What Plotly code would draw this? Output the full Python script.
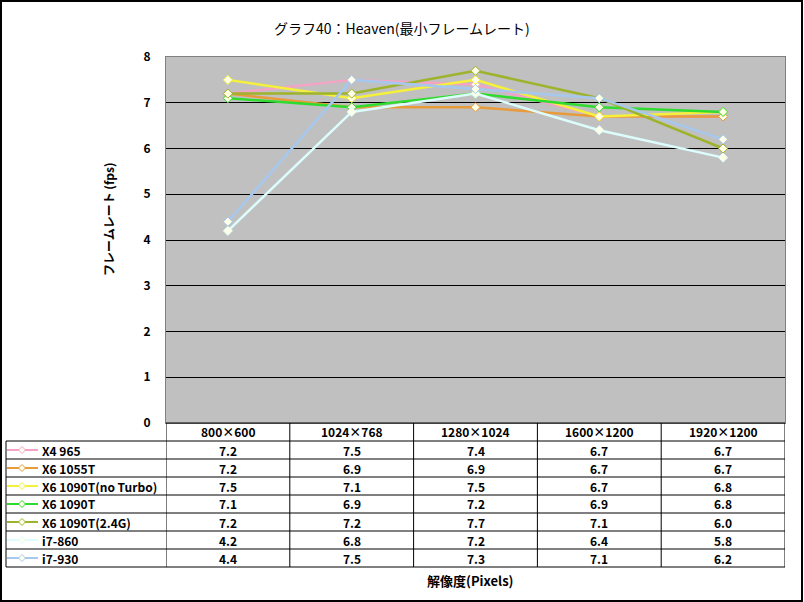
import plotly.graph_objects as go

categories = ["800×600", "1024×768", "1280×1024", "1600×1200", "1920×1200"]
series_names = ["X4 965", "X6 1055T", "X6 1090T(no Turbo)", "X6 1090T", "X6 1090T(2.4G)", "i7-860", "i7-930"]
x4_965 = [7.2, 7.5, 7.4, 6.7, 6.7]
x6_1055t = [7.2, 6.9, 6.9, 6.7, 6.7]
x6_1090t_noturbo = [7.5, 7.1, 7.5, 6.7, 6.8]
x6_1090t = [7.1, 6.9, 7.2, 6.9, 6.8]
x6_1090t_24g = [7.2, 7.2, 7.7, 7.1, 6.0]
i7_860 = [4.2, 6.8, 7.2, 6.4, 5.8]
i7_930 = [4.4, 7.5, 7.3, 7.1, 6.2]
series_values = [x4_965, x6_1055t, x6_1090t_noturbo, x6_1090t, x6_1090t_24g, i7_860, i7_930]
colors = ["#F4A3C6", "#E89B3A", "#F5F03A", "#2EDB2E", "#9DB32C", "#DDFDFD", "#A6C8EE"]
y_ticks = [0, 1, 2, 3, 4, 5, 6, 7, 8]

W, H = 804, 602
L, R, T, B = 166, 785, 57, 423
pw, ph = R - L, B - T

def px(xp):
    return (xp - L) / pw

def py(yp):
    return (B - yp) / ph

FONT = "Noto Sans CJK JP"
fig = go.Figure()
for name, vals, col in zip(series_names, series_values, colors):
    fig.add_trace(go.Scatter(
        x=list(range(len(categories))), y=vals, name=name, mode="lines+markers",
        line=dict(color=col, width=2.5),
        marker=dict(symbol="diamond", size=7, color="#FFFFE8", line=dict(color=col, width=1)),
        showlegend=False, hoverinfo="skip"))

shapes = []
annotations = []

shapes.append(dict(type="rect", xref="paper", yref="paper", x0=px(1), x1=px(802), y0=py(1), y1=py(601),
                   line=dict(color="black", width=2), fillcolor="rgba(0,0,0,0)", layer="below"))

header_top = B
header_h = 18
row_h = 18
n_rows = len(series_names)
rows_top = header_top + header_h
table_bottom = rows_top + n_rows * row_h
line_style = dict(color="black", width=1)

shapes.append(dict(type="line", xref="paper", yref="paper", x0=px(L), x1=px(R), y0=py(header_top), y1=py(header_top), line=line_style))
for i in range(n_rows + 1):
    yy = rows_top + i * row_h
    shapes.append(dict(type="line", xref="paper", yref="paper", x0=px(6), x1=px(R), y0=py(yy), y1=py(yy), line=line_style))
shapes.append(dict(type="line", xref="paper", yref="paper", x0=px(6), x1=px(6), y0=py(rows_top), y1=py(table_bottom), line=line_style))
for k in range(len(categories) + 1):
    shapes.append(dict(type="line", xref="x", yref="paper", x0=k - 0.5, x1=k - 0.5, y0=py(header_top), y1=py(table_bottom), line=line_style))

for k, c in enumerate(categories):
    annotations.append(dict(x=k, xref="x", y=py(header_top + header_h / 2), yref="paper", text="<b>" + c + "</b>", showarrow=False,
                            font=dict(family=FONT, size=12, color="black"), xanchor="center", yanchor="middle"))

for i, (name, vals, col) in enumerate(zip(series_names, series_values, colors)):
    yc = rows_top + i * row_h + row_h / 2
    shapes.append(dict(type="line", xref="paper", yref="paper", x0=px(7), x1=px(38), y0=py(yc), y1=py(yc),
                       line=dict(color=col, width=2)))
    shapes.append(dict(type="path", xref="paper", yref="paper",
                       path="M {} {} L {} {} L {} {} L {} {} Z".format(px(18.5), py(yc), px(22), py(yc - 3.5), px(25.5), py(yc), px(22), py(yc + 3.5)),
                       line=dict(color=col, width=1), fillcolor="#FFFFF0"))
    annotations.append(dict(x=px(40), xref="paper", y=py(yc), yref="paper", text="<b>" + name + "</b>", showarrow=False,
                            font=dict(family=FONT, size=12, color="black"), xanchor="left", yanchor="middle"))
    for k, v in enumerate(vals):
        annotations.append(dict(x=k, xref="x", y=py(yc), yref="paper", text="<b>{:.1f}</b>".format(v), showarrow=False,
                                font=dict(family=FONT, size=12, color="black"), xanchor="center", yanchor="middle"))

annotations.append(dict(x=px(402), xref="paper", y=py(28), yref="paper", text="グラフ40：Heaven(最小フレームレート)", showarrow=False,
                        font=dict(family=FONT, size=14, color="black"), xanchor="center", yanchor="middle"))
annotations.append(dict(x=px(108), xref="paper", y=py(219), yref="paper", text="<b>フレームレート (fps)</b>", showarrow=False, textangle=-90,
                        font=dict(family=FONT, size=12, color="black"), xanchor="center", yanchor="middle"))
annotations.append(dict(x=px(470), xref="paper", y=py(580), yref="paper", text="<b>解像度(Pixels)</b>", showarrow=False,
                        font=dict(family=FONT, size=13, color="black"), xanchor="center", yanchor="middle"))

fig.update_layout(
    width=W, height=H,
    margin=dict(l=L, r=W - R, t=T, b=H - B, pad=0),
    paper_bgcolor="white", plot_bgcolor="#C0C0C0",
    font=dict(family=FONT, size=12, color="black"),
    hovermode=False,
    xaxis=dict(range=[-0.5, len(categories) - 0.5], showticklabels=False, showgrid=False, zeroline=False,
               showline=True, linecolor="#808080", linewidth=1, mirror=True, fixedrange=True),
    yaxis=dict(range=[0, 8], tickvals=y_ticks, ticktext=["<b>{}</b>".format(t) for t in y_ticks],
               showgrid=True, gridcolor="black", gridwidth=1, zeroline=False,
               showline=True, linecolor="#808080", linewidth=1, mirror=True, ticks="", ticklabelstandoff=12,
               tickfont=dict(family=FONT, size=12), fixedrange=True),
    shapes=shapes, annotations=annotations,
)
fig.write_html("out.html", config={"displayModeBar": False},
               post_script="document.body.style.margin='0';document.body.style.overflow='hidden';")
